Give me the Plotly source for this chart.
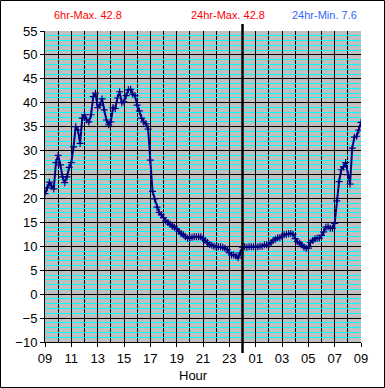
import pandas as pd
import plotly.graph_objects as go

# Temperature readings every 10 minutes, 09:00 -> 09:00 next day
temps = [
    21.0, 22.2, 23.4, 22.6, 22.0, 27.5,
    29.0, 27.0, 24.5, 23.3, 24.5, 26.5,
    27.5, 30.8, 35.0, 34.3, 31.5, 36.8,
    37.5, 36.4, 36.0, 37.5, 41.3, 42.0,
    39.0, 39.5, 40.8, 38.5, 36.4, 35.4,
    36.0, 39.0, 38.8, 41.0, 42.3, 40.0,
    40.2, 41.5, 42.7, 42.8, 41.8, 41.5,
    39.5, 38.3, 36.8, 36.0, 35.6, 34.5,
    28.0, 21.5, 19.9, 18.2, 17.1, 16.6,
    16.0, 15.3, 15.0, 14.6, 14.2, 14.0,
    13.6, 13.1, 12.7, 12.4, 12.0, 11.7,
    11.7, 11.9, 12.0, 12.0, 12.0, 12.0,
    11.6, 11.2, 10.8, 10.4, 10.2, 10.0,
    9.9, 9.9, 9.9, 9.8, 9.6, 9.3,
    8.7, 8.2, 8.2, 8.0, 7.6, 8.6,
    9.8, 9.9, 9.8, 9.9, 9.9, 9.9,
    9.9, 9.9, 10.0, 10.0, 10.3, 10.3,
    10.4, 10.8, 11.2, 11.5, 11.8, 11.8,
    12.1, 12.4, 12.5, 12.6, 12.7, 12.5,
    11.6, 11.0, 10.7, 10.3, 9.8, 9.6,
    9.6, 10.8, 11.2, 11.6, 11.7, 11.7,
    12.3, 13.0, 14.0, 14.1, 13.8, 13.8,
    14.8, 19.5, 23.5, 26.0, 26.6, 27.5,
    25.0, 23.0, 30.5, 32.8, 33.0, 34.3,
    35.9,
]
times = pd.date_range("2024-01-01 09:00", periods=len(temps), freq="10min")

start_time = "2024-01-01 09:00"
end_time = "2024-01-02 09:00"
midnight = "2024-01-02 00:00"

y_range = [-10, 55]
header_texts = ["6hr-Max. 42.8", "24hr-Max. 42.8", "24hr-Min. 7.6"]
header_colors = ["#FF0000", "#FF0000", "#3366FF"]
x_title = "Hour"

FONT = "Arial, Liberation Sans, sans-serif"

fig = go.Figure()
fig.add_trace(go.Scatter(
    x=times, y=temps, mode="lines+markers",
    line=dict(color="#000080", width=2),
    marker=dict(symbol="cross-thin", size=5, line=dict(color="#000080", width=1.2)),
    showlegend=False, hoverinfo="skip",
))

fig.update_layout(
    width=385, height=388,
    margin=dict(l=45, r=24, t=31, b=46),
    paper_bgcolor="white", plot_bgcolor="#C0C0C0",
    font=dict(family=FONT, size=13, color="black"),
    xaxis=dict(
        type="date", range=[start_time, end_time],
        tick0=start_time, dtick=7200000, tickformat="%H",
        ticks="outside", ticklen=4, tickcolor="black",
        showgrid=True, gridcolor="black", gridwidth=1,
        minor=dict(dtick=3600000, tick0=start_time, showgrid=True,
                   gridcolor="black", gridwidth=1, ticks=""),
        showline=True, linecolor="black", linewidth=1,
        zeroline=False,
        tickfont=dict(size=13),
    ),
    yaxis=dict(
        range=y_range, dtick=5, tick0=0,
        ticks="outside", ticklen=4, tickcolor="black",
        showgrid=True, gridcolor="black", gridwidth=1,
        minor=dict(dtick=1, showgrid=True, gridcolor="#00FFFF", gridwidth=1, ticks=""),
        showline=True, linecolor="black", linewidth=1,
        zeroline=False,
        tickfont=dict(size=13),
    ),
)

# midnight divider line
fig.add_shape(type="line", xref="x", yref="paper",
              x0=midnight, x1=midnight, y0=-0.0354, y1=1.0225,
              line=dict(color="black", width=2.5))

# outer frame
fig.add_shape(type="rect", xref="paper", yref="paper",
              x0=(0.5 - 45) / 316, x1=(384.5 - 45) / 316,
              y0=(342 - 387.5) / 311, y1=(342 - 0.5) / 311,
              line=dict(color="black", width=1), fillcolor="rgba(0,0,0,0)")

header_x = [(88 - 45) / 316, (228 - 45) / 316, (324 - 45) / 316]
for txt, col, hx in zip(header_texts, header_colors, header_x):
    fig.add_annotation(text=txt, x=hx, y=(342 - 15) / 311, xref="paper", yref="paper",
                       showarrow=False, font=dict(family=FONT, size=11, color=col),
                       xanchor="center", yanchor="middle")

fig.add_annotation(text=x_title, x=(193 - 45) / 316, y=(342 - 375) / 311,
                   xref="paper", yref="paper", showarrow=False,
                   font=dict(family=FONT, size=13, color="black"),
                   xanchor="center", yanchor="middle")

fig.write_html("out.html",
               config={"displayModeBar": False},
               post_script="document.body.style.margin='0';document.body.style.overflow='hidden';")
